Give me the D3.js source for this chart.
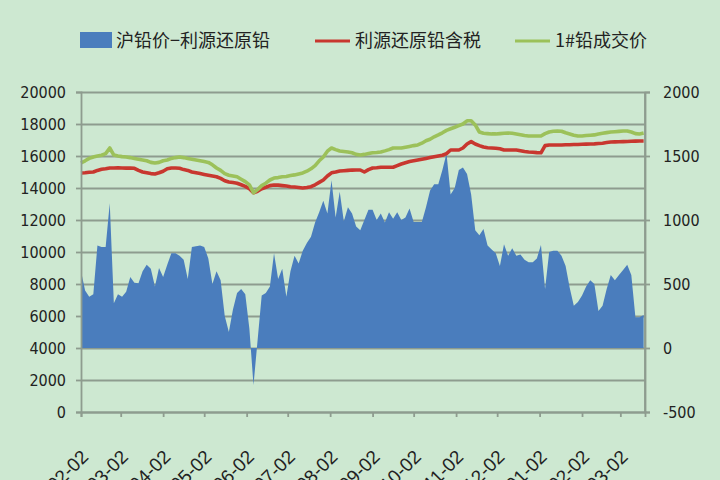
<!DOCTYPE html>
<html>
<head>
<meta charset="utf-8">
<script src="https://cdn.jsdelivr.net/npm/d3@7"></script>
<style>
  html, body { margin: 0; padding: 0; background: #cde8d1; }
  svg { display: block; }
  .tick text { fill: #222; }
</style>
</head>
<body>
<svg id="chart" width="720" height="480"></svg>
<script>
// sample dates (every third day), shared by the three series
var dates = [
  "2012-02-02","2012-02-05","2012-02-08","2012-02-11","2012-02-14","2012-02-17","2012-02-20","2012-02-23","2012-02-26","2012-02-29",
  "2012-03-03","2012-03-06","2012-03-09","2012-03-12","2012-03-15","2012-03-18","2012-03-21","2012-03-24","2012-03-27","2012-03-30",
  "2012-04-02","2012-04-05","2012-04-08","2012-04-11","2012-04-14","2012-04-17","2012-04-20","2012-04-23","2012-04-26","2012-04-29",
  "2012-05-02","2012-05-05","2012-05-08","2012-05-11","2012-05-14","2012-05-17","2012-05-20","2012-05-23","2012-05-26","2012-05-29",
  "2012-06-01","2012-06-04","2012-06-07","2012-06-10","2012-06-13","2012-06-16","2012-06-19","2012-06-22","2012-06-25","2012-06-28",
  "2012-07-01","2012-07-04","2012-07-07","2012-07-10","2012-07-13","2012-07-16","2012-07-19","2012-07-22","2012-07-25","2012-07-28","2012-07-31",
  "2012-08-03","2012-08-06","2012-08-09","2012-08-12","2012-08-15","2012-08-18","2012-08-21","2012-08-24","2012-08-27","2012-08-30",
  "2012-09-02","2012-09-05","2012-09-08","2012-09-11","2012-09-14","2012-09-17","2012-09-20","2012-09-23","2012-09-26","2012-09-29",
  "2012-10-02","2012-10-05","2012-10-08","2012-10-11","2012-10-14","2012-10-17","2012-10-20","2012-10-23","2012-10-26","2012-10-29",
  "2012-11-01","2012-11-04","2012-11-07","2012-11-10","2012-11-13","2012-11-16","2012-11-19","2012-11-22","2012-11-25","2012-11-28",
  "2012-12-01","2012-12-04","2012-12-07","2012-12-10","2012-12-13","2012-12-16","2012-12-19","2012-12-22","2012-12-25","2012-12-28","2012-12-31",
  "2013-01-03","2013-01-06","2013-01-09","2013-01-12","2013-01-15","2013-01-18","2013-01-21","2013-01-24","2013-01-27","2013-01-30",
  "2013-02-02","2013-02-05","2013-02-08","2013-02-11","2013-02-14","2013-02-17","2013-02-20","2013-02-23","2013-02-26",
  "2013-03-01","2013-03-04","2013-03-07","2013-03-10","2013-03-13","2013-03-16","2013-03-19"
];

// 沪铅价-利源还原铅 (right axis)
var spread = [
  600,450,400,420,800,790,790,1130,350,420,
  400,440,555,510,505,600,650,620,480,625,
  555,650,740,740,720,690,540,790,795,800,
  790,700,500,600,530,250,125,300,430,460,
  420,150,-290,60,410,430,480,740,540,620,
  400,600,720,660,760,820,870,980,1060,1150,1050,
  1310,1020,1220,990,1100,1050,950,920,1000,1080,
  1080,1000,1050,980,1060,1010,1060,1000,1020,1090,
  985,985,985,1100,1230,1280,1280,1390,1520,1200,
  1250,1390,1410,1360,1200,920,880,930,800,770,
  740,640,810,720,780,720,730,690,670,670,700,
  805,460,750,760,760,720,640,470,330,360,
  410,480,530,500,290,330,460,570,530,
  570,610,650,570,240,240,258
];

// 利源还原铅含税 (left axis)
var liyuan = [
  14940,14950,14980,15000,15100,15170,15200,15250,15250,15260,
  15250,15240,15250,15230,15100,15000,14950,14900,14880,14950,
  15050,15200,15250,15250,15230,15150,15100,15000,14950,14900,
  14850,14800,14750,14700,14600,14450,14370,14340,14300,14200,
  14100,13950,13700,13800,13950,14050,14150,14190,14180,14150,
  14120,14080,14060,14030,14000,14030,14080,14200,14350,14500,14750,
  14950,15000,15060,15080,15100,15120,15125,15125,15000,15150,
  15250,15270,15300,15300,15300,15300,15400,15500,15580,15650,
  15700,15750,15800,15850,15900,15950,16000,16050,16150,16375,
  16375,16375,16500,16750,16900,16750,16650,16560,16520,16500,
  16480,16450,16375,16375,16375,16375,16330,16280,16250,16230,16210,
  16200,16650,16690,16690,16690,16690,16700,16700,16720,16720,
  16730,16740,16750,16760,16780,16800,16840,16875,16880,
  16890,16900,16910,16920,16930,16940,16940
];

// 1#铅成交价 (left axis)
var spot = [
  15560,15700,15850,15940,16000,16050,16150,16500,16060,16000,
  15960,15940,15900,15850,15800,15750,15700,15600,15560,15600,
  15700,15750,15850,15900,15940,15900,15850,15800,15750,15700,
  15650,15600,15450,15250,15100,14900,14800,14750,14700,14550,
  14400,14200,13700,13900,14150,14300,14500,14620,14650,14700,
  14720,14780,14820,14880,14940,15050,15200,15400,15700,15940,16300,
  16500,16400,16310,16280,16250,16200,16100,16060,16100,16150,
  16200,16220,16250,16320,16400,16500,16500,16500,16550,16600,
  16650,16690,16800,16950,17050,17200,17320,17450,17600,17700,
  17800,17900,18000,18200,18200,17940,17500,17420,17400,17380,
  17380,17400,17420,17440,17420,17380,17330,17280,17250,17250,17250,
  17250,17400,17500,17550,17560,17550,17450,17380,17300,17250,
  17250,17280,17300,17320,17380,17420,17460,17500,17520,
  17540,17560,17560,17500,17400,17380,17440
];

var xTickDates = ["2012-02-02","2012-03-02","2012-04-02","2012-05-02","2012-06-02","2012-07-02",
  "2012-08-02","2012-09-02","2012-10-02","2012-11-02","2012-12-02","2013-01-02","2013-02-02","2013-03-02"];
var leftTicks = [0,2000,4000,6000,8000,10000,12000,14000,16000,18000,20000];
var rightTicks = [-500,0,500,1000,1500,2000];
var seriesNames = ["沪铅价\u2212利源还原铅", "利源还原铅含税", "1#铅成交价"];

(function () {
    "use strict";
    var parse = d3.timeParse("%Y-%m-%d"),
        svg = d3.select("#chart"),
        m = {l: 81, r: 645, t: 92, b: 412},
        gridCol = "#8e9c8f",
        numFont = "'Liberation Sans Narrow', 'DejaVu Sans Condensed', 'Liberation Sans', sans-serif",
        cjkFont = "'Noto Sans CJK SC', sans-serif",
        plain = function (d) { return String(d); },
        rows, x, yL, yR, g;

    rows = dates.map(function (d, i) {
        return {date: parse(d), spread: spread[i], liyuan: liyuan[i], spot: spot[i]}; });

    x = d3.scaleTime()
        .domain([parse("2012-02-02"), parse("2013-03-20")])
        .range([m.l, m.r]);
    yL = d3.scaleLinear().domain([0, 20000]).range([m.b, m.t]);
    yR = d3.scaleLinear().domain([-500, 2000]).range([m.b, m.t]);

    svg.append("rect").attr("width", 720).attr("height", 480).attr("fill", "#cde8d1");

    // horizontal gridlines
    g = svg.append("g").attr("transform", "translate(" + m.l + ",0)")
        .call(d3.axisLeft(yL).tickValues(leftTicks).tickSize(-(m.r - m.l)).tickFormat(""));
    g.select(".domain").remove();
    g.selectAll("line").attr("stroke", gridCol).attr("stroke-width", 1.6);

    // spread area
    svg.append("path")
        .datum(rows)
        .attr("fill", "#4a7dbd")
        .attr("d", d3.area()
            .x(function (d) { return x(d.date); })
            .y0(yR(0))
            .y1(function (d) { return yR(d.spread); }));

    // price lines
    [["liyuan", "#c8372f"], ["spot", "#9cc15a"]].forEach(function (s) {
        svg.append("path")
            .datum(rows)
            .attr("fill", "none")
            .attr("stroke", s[1])
            .attr("stroke-width", 3.6)
            .attr("stroke-linejoin", "round")
            .attr("d", d3.line()
                .x(function (d) { return x(d.date); })
                .y(function (d) { return yL(d[s[0]]); }));
    });

    // left axis
    g = svg.append("g").attr("transform", "translate(" + m.l + ",0)")
        .call(d3.axisLeft(yL).tickValues(leftTicks).tickSize(5).tickPadding(10).tickFormat(plain));
    g.selectAll("text").style("font", "16px " + numFont);

    // right axis
    g = svg.append("g").attr("transform", "translate(" + m.r + ",0)")
        .call(d3.axisRight(yR).tickValues(rightTicks).tickSize(5).tickPadding(13).tickFormat(plain));
    g.selectAll("text").style("font", "16px " + numFont);

    // bottom axis, labels run off the bottom edge as in the source image
    g = svg.append("g").attr("transform", "translate(0," + m.b + ")")
        .call(d3.axisBottom(x).tickValues(xTickDates.map(parse)).tickSize(5).tickFormat(d3.timeFormat("%Y-%m-%d")));
    g.selectAll("text")
        .style("font", "19px 'Liberation Sans', sans-serif")
        .attr("text-anchor", "end")
        .attr("y", 0).attr("dy", 0)
        .attr("transform", "translate(8,46) rotate(-45)");

    svg.selectAll(".domain, .tick line").attr("stroke", gridCol).attr("stroke-width", 1.8);
    svg.append("line").attr("x1", m.r).attr("x2", m.r).attr("y1", m.t).attr("y2", m.b)
        .attr("stroke", gridCol).attr("stroke-width", 1.8);

    // legend
    g = svg.append("g").style("font", "18px " + cjkFont).attr("fill", "#222");
    g.append("rect").attr("x", 80).attr("y", 32).attr("width", 32).attr("height", 16).attr("fill", "#4a7dbd");
    g.append("text").attr("x", 116).attr("y", 47).text(seriesNames[0]);
    g.append("line").attr("x1", 315).attr("x2", 350).attr("y1", 41).attr("y2", 41)
        .attr("stroke", "#c8372f").attr("stroke-width", 3);
    g.append("text").attr("x", 355).attr("y", 47).text(seriesNames[1]);
    g.append("line").attr("x1", 515).attr("x2", 550).attr("y1", 41).attr("y2", 41)
        .attr("stroke", "#9cc15a").attr("stroke-width", 3);
    g.append("text").attr("x", 555).attr("y", 47).text(seriesNames[2]);
}());
</script>
</body>
</html>
